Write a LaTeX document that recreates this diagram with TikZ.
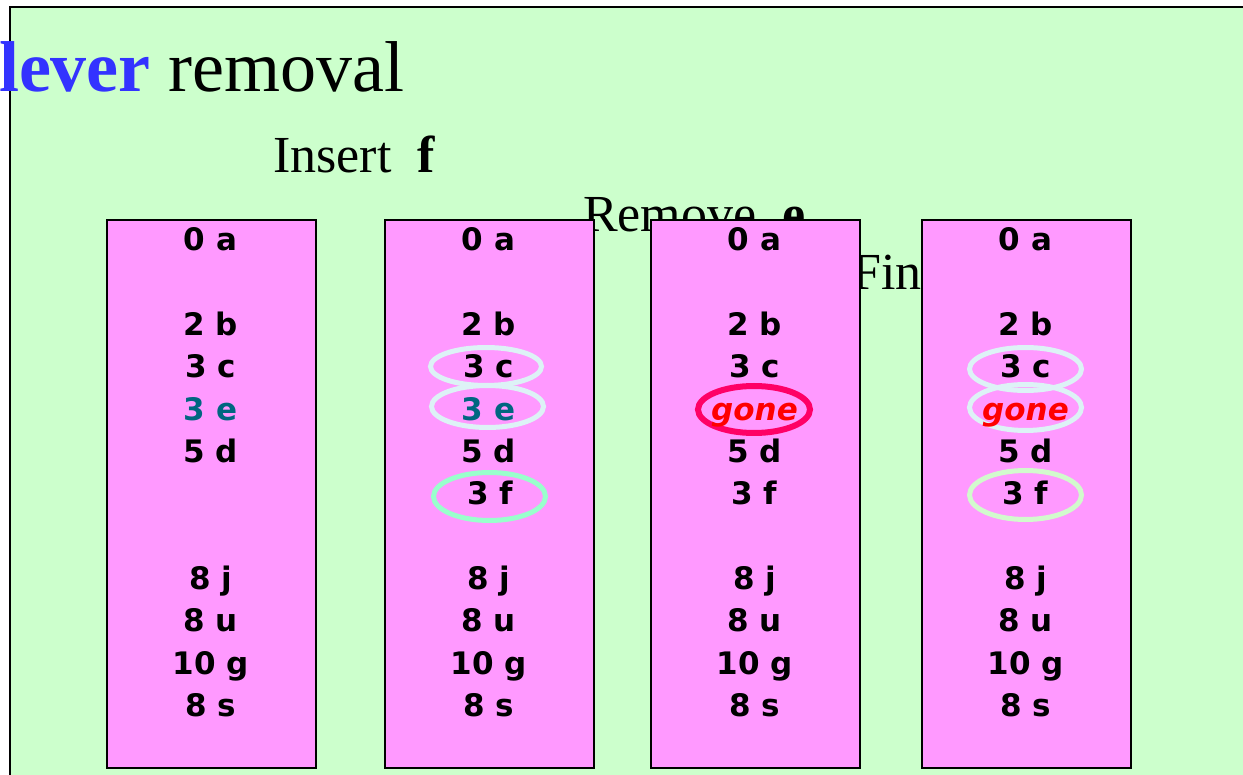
\documentclass[tikz,border=0pt]{standalone}
\usepackage{fontspec}
\setmainfont{Liberation Serif}
\newfontfamily\cellfont{DejaVu Sans}
\usetikzlibrary{shapes.geometric}
\definecolor{bggreen}{RGB}{204,255,204}
\definecolor{cellpink}{RGB}{255,153,255}
\definecolor{titleblue}{RGB}{51,51,255}
\definecolor{tealtxt}{RGB}{0,102,128}
\definecolor{ringcyan}{RGB}{221,242,246}
\definecolor{ringmint}{RGB}{153,255,204}
\definecolor{ringpale}{RGB}{210,250,205}
\definecolor{ringred}{RGB}{255,0,102}
\definecolor{gonered}{RGB}{255,0,0}

\begin{document}
\begin{tikzpicture}[x=1pt,y=-1pt,
  table/.style={draw=black, line width=2pt, fill=cellpink, minimum width=209pt,
    minimum height=548pt, inner sep=0pt, anchor=north west},
  entry/.style={font=\cellfont\fontsize{31}{31}\selectfont\bfseries, anchor=base, inner sep=0pt},
  gonetxt/.style={entry, text=gonered, font=\cellfont\fontsize{31}{31}\selectfont\bfseries\itshape},
  ring/.style args={#1/#2/#3}{ellipse, draw=#1, line width=5pt, inner sep=0pt,
    minimum width=#2, minimum height=#3},
  caption/.style={inner sep=0pt, anchor=base west, font=\fontsize{52}{52}\selectfont},
]
\useasboundingbox (0,0) rectangle (1243,775);
\clip (0,0) rectangle (1243,775);

% slide background and frame
\fill[bggreen] (10,7) rectangle (1260,790);
\draw[line width=2pt] (1260,7) -- (10,7) -- (10,790);

% headings
\node[inner sep=0pt, anchor=base east, font=\fontsize{72}{72}\selectfont] (title) at (405,92)
  {{\color{titleblue}\bfseries Clever} removal};
\node[caption] (ins) at (273,173) {Insert\ \ \textbf{f}};
\node[caption] (rem) at (583,232) {Remove\ \ \textbf{e}};
\node[caption] (fnd) at (852,290) {Find};

% the four tables
\node[table] (t1) at (106,219) {};
\node[table] (t2) at (384,219) {};
\node[table] (t3) at (650,219) {};
\node[table] (t4) at (921,219) {};

% highlight rings
\node[ring=ringcyan/111pt/38pt] (c2) at (486,366.5) {};
\node[ring=ringcyan/112pt/42pt] (e2) at (487.5,406.5) {};
\node[ring=ringmint/112pt/48pt] (f2) at (489.5,496.5) {};
\node[ring=ringred/112pt/47pt, line width=6pt] (g3) at (754,409.5) {};
\node[ring=ringcyan/112pt/43pt] (c4) at (1025.5,369) {};
\node[ring=ringcyan/112pt/46pt] (g4) at (1025.5,407.5) {};
\node[ring=ringpale/112pt/49pt] (f4) at (1025.5,495) {};

% entries common to every table
\foreach \t/\cx in {1/210.5, 2/488.5, 3/754.5, 4/1025.5}{
  \foreach \r/\txt in {0/0 a, 2/2 b, 3/3 c, 5/5 d, 8/8 j, 9/8 u, 10/10 g, 11/8 s}{
    \node[entry] (t\t r\r) at (\cx, 251+42.3*\r) {\txt};
  }
}
% entries that differ between tables
\node[entry, text=tealtxt] (t1r4) at (210.5, 420.2) {3 e};
\node[entry, text=tealtxt] (t2r4) at (488.5, 420.2) {3 e};
\node[gonetxt] (t3r4) at (754.5, 420.2) {gone};
\node[gonetxt] (t4r4) at (1025.5, 420.2) {gone};
\node[entry] (t2r6) at (490, 504.8) {3 f};
\node[entry] (t3r6) at (754.5, 504.8) {3 f};
\node[entry] (t4r6) at (1025.5, 504.8) {3 f};
\end{tikzpicture}
\end{document}
